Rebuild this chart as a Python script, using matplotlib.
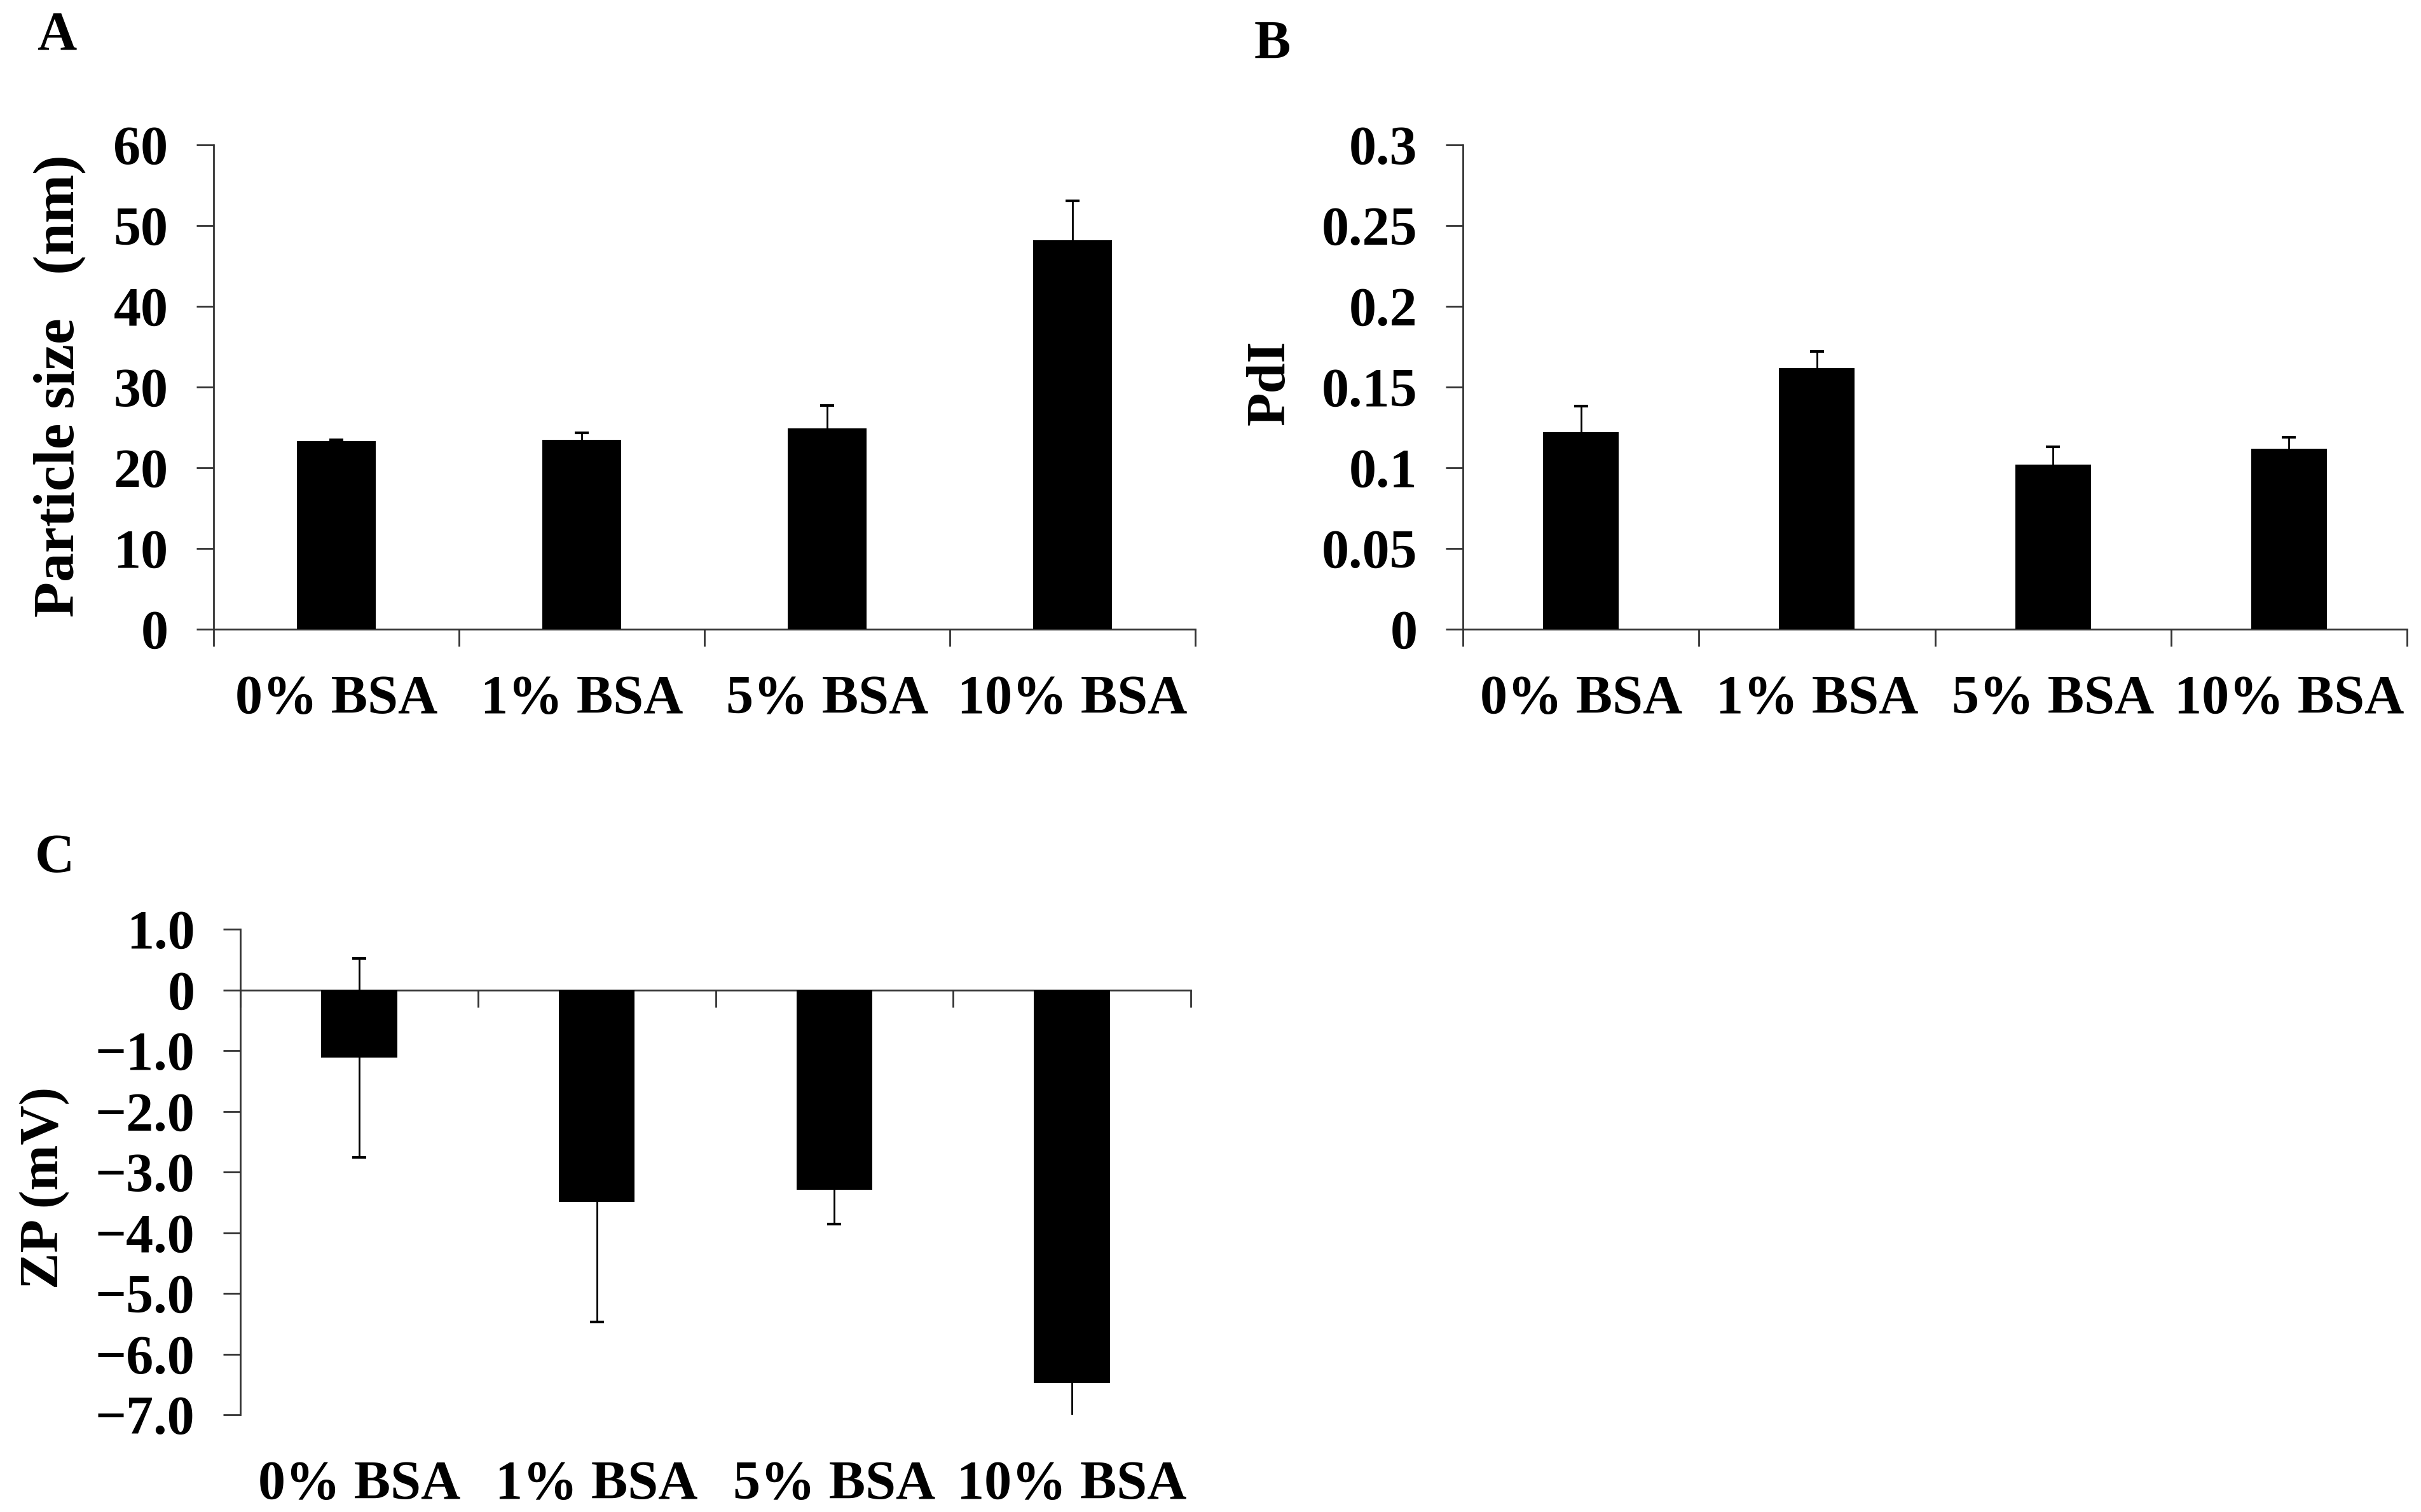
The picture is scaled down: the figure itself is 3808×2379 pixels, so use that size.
import matplotlib
matplotlib.use("Agg")
import matplotlib.pyplot as plt
import numpy as np

plt.rcParams['font.family'] = ['Liberation Serif', 'DejaVu Serif']
plt.rcParams['font.weight'] = 'bold'

categories = ["0% BSA", "1% BSA", "5% BSA", "10% BSA"]

size_mean = [23.3, 23.5, 24.9, 48.2]
size_err = [0.2, 0.8, 2.8, 4.9]
size_ticks = [0, 10, 20, 30, 40, 50, 60]
size_ticklabels = ["0", "10", "20", "30", "40", "50", "60"]

pdi_mean = [0.122, 0.162, 0.102, 0.112]
pdi_err = [0.016, 0.010, 0.011, 0.007]
pdi_ticks = [0, 0.05, 0.1, 0.15, 0.2, 0.25, 0.3]
pdi_ticklabels = ["0", "0.05", "0.1", "0.15", "0.2", "0.25", "0.3"]

zp_mean = [-1.12, -3.49, -3.29, -6.48]
zp_err = [1.64, 1.98, 0.57, 0.7]
zp_ticks = [1, 0, -1, -2, -3, -4, -5, -6, -7]
zp_ticklabels = ["1.0", "0", "\u22121.0", "\u22122.0", "\u22123.0", "\u22124.0",
                 "\u22125.0", "\u22126.0", "\u22127.0"]

W, H, DPI = 3808, 2379, 200
fig = plt.figure(figsize=(W / DPI, H / DPI), dpi=DPI)

def px_axes(l, t, r, b):
    return fig.add_axes([l / W, 1 - b / H, (r - l) / W, (b - t) / H])

axA = px_axes(336, 228, 1880, 990)
axB = px_axes(2301, 228, 3786, 990)
axC = px_axes(378, 1462, 1873, 2226)

SPINE = '#333333'
FS = 31
x = np.arange(len(categories))

def style(ax, ticks, ticklabels, ylim, ylabel, lab_xy, lab_fs=FS,
          labels_at_spine=True):
    ax.set_xlim(-0.5, len(categories) - 0.5)
    ax.set_ylim(*ylim)
    for s in ['top', 'right']:
        ax.spines[s].set_visible(False)
    for s in ['left', 'bottom']:
        ax.spines[s].set_color(SPINE)
        ax.spines[s].set_linewidth(1.0)
    ax.set_yticks(ticks)
    ax.set_yticklabels(ticklabels, fontsize=FS, fontweight='bold')
    ax.tick_params(axis='y', direction='out', length=9.7, width=1.0,
                   color=SPINE, pad=16)
    bounds = np.arange(len(categories) + 1) - 0.5
    ax.set_xticks(bounds)
    ax.set_xticklabels([])
    ax.tick_params(axis='x', direction='out', length=9.7, width=1.0,
                   color=SPINE)
    if labels_at_spine:
        ax.set_xticks(x, minor=True)
        ax.set_xticklabels(categories, minor=True, fontsize=FS,
                           fontweight='bold')
        ax.tick_params(axis='x', which='minor', length=0, pad=26)
    else:
        for xi, lab in zip(x, categories):
            ax.annotate(lab, xy=(xi, 0), xycoords=('data', 'axes fraction'),
                        xytext=(0, -26), textcoords='offset points',
                        ha='center', va='top', fontsize=FS,
                        fontweight='bold', annotation_clip=False)
    ax.set_ylabel(ylabel, fontsize=lab_fs, fontweight='bold')
    ax.yaxis.set_label_coords(*lab_xy)
    ax.yaxis.label.set_verticalalignment('center')

ekw = dict(ecolor='black', elinewidth=1.0, capsize=4, capthick=1.5)

axA.bar(x, size_mean, width=0.32, color='black', yerr=size_err,
        error_kw=ekw, zorder=3)
style(axA, size_ticks, size_ticklabels, (0, 60),
      "Particle size   (nm)", (-0.157, 0.503), lab_fs=33)

axB.bar(x, pdi_mean, width=0.32, color='black', yerr=pdi_err,
        error_kw=ekw, zorder=3)
style(axB, pdi_ticks, pdi_ticklabels, (0, 0.3), "PdI", (-0.203, 0.509))

axC.bar(x, zp_mean, width=0.32, color='black', yerr=zp_err,
        error_kw=ekw, zorder=3)
style(axC, zp_ticks, zp_ticklabels, (-7, 1), "ZP (mV)", (-0.206, 0.467),
      labels_at_spine=False)
axC.spines['bottom'].set_position(('data', 0))

fig.text(58 / W, 1 - 78 / H, "A", fontsize=FS, fontweight='bold',
         ha='left', va='baseline')
fig.text(1973 / W, 1 - 92 / H, "B", fontsize=FS, fontweight='bold',
         ha='left', va='baseline')
fig.text(55 / W, 1 - 1372 / H, "C", fontsize=FS, fontweight='bold',
         ha='left', va='baseline')

fig.savefig("out.png", dpi=DPI, facecolor='white')
